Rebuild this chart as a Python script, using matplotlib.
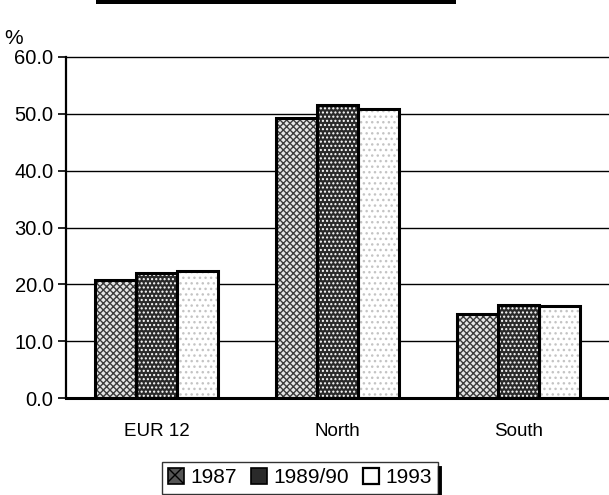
import numpy as np
import matplotlib
matplotlib.use("Agg")
import matplotlib.pyplot as plt
from matplotlib.patches import Patch, Rectangle
from matplotlib.lines import Line2D

plt.rcParams['font.family'] = ['Liberation Sans', 'DejaVu Sans']
plt.rcParams['hatch.linewidth'] = 1.0

categories = ['EUR 12', 'North', 'South']
series = ['1987', '1989/90', '1993']
v1987 = [20.7, 49.3, 14.8]
v1989 = [22.0, 51.5, 16.3]
v1993 = [22.4, 50.8, 16.2]
yticks = [0, 10, 20, 30, 40, 50, 60]

# face colour, hatch, hatch colour per series
styles = [('#e6e6e6', 'xxxxx', '#3c3c3c'),
          ('#2a2a2a', '....', '#ffffff'),
          ('#ffffff', '...', '#c4c4c4')]

fig = plt.figure(figsize=(6.09, 4.95), dpi=100)
ax = fig.add_axes([66/609, 97/495, 1 - 66/609, 341/495])

x = np.arange(len(categories))
w = 0.225
for i, vals in enumerate([v1987, v1989, v1993]):
    face, hatch, hcol = styles[i]
    pos = x + (i - 1) * w
    # pattern layer
    ax.bar(pos, vals, width=w, color=face, hatch=hatch, edgecolor=hcol,
           linewidth=0, zorder=2)
    # outline layer
    ax.bar(pos, vals, width=w, fill=False, edgecolor='black',
           linewidth=2.2, zorder=3)

ax.set_xlim(-0.5, 2.5)
ax.set_ylim(0, 60)
ax.set_yticks(yticks)
ax.set_yticklabels([f'{t:.1f}' for t in yticks], fontsize=14.5)
ax.set_xticks(x)
ax.set_xticklabels(categories, fontsize=13.5)
ax.tick_params(axis='x', length=0, pad=18)
ax.tick_params(axis='y', length=6, width=1.2, direction='out', pad=3)

for t in yticks[1:-1]:
    ax.axhline(t, color='black', lw=1.0, zorder=1)

ax.spines['right'].set_visible(False)
ax.spines['top'].set_linestyle((0, (1, 1)))
ax.spines['top'].set_linewidth(1.0)
ax.spines['left'].set_linewidth(1.6)
ax.spines['bottom'].set_linewidth(2.2)

fig.text(14/609, 1 - 39/495, '%', fontsize=15, ha='center', va='center')

# black bar remnant at the top
fig.add_artist(Rectangle((96/609, 1 - 4/495), 360/609, 4/495,
                         transform=fig.transFigure, color='black', lw=0))

handles = [Patch(facecolor='#555555', hatch='xx', edgecolor='black', linewidth=1.2),
           Patch(facecolor='#2a2a2a', edgecolor='black', linewidth=1.2),
           Patch(facecolor='white', edgecolor='black', linewidth=1.6)]
leg = fig.legend(handles, series, loc='upper left',
                 bbox_to_anchor=(162/609, 1 - 462/495), ncol=3, fontsize=15,
                 frameon=True, fancybox=False, edgecolor='black',
                 handlelength=0.75, handleheight=0.75, handletextpad=0.3,
                 columnspacing=0.7, borderpad=0.3, borderaxespad=0)
leg.get_frame().set_linewidth(1.0)

fig.canvas.draw()
bb = leg.get_window_extent().transformed(fig.transFigure.inverted())
fig.add_artist(Line2D([bb.x1 + 1.5/609, bb.x1 + 1.5/609], [bb.y0, bb.y1 - 6/495],
                      transform=fig.transFigure, color='black', lw=3.5))

fig.savefig('out.png', dpi=100)
